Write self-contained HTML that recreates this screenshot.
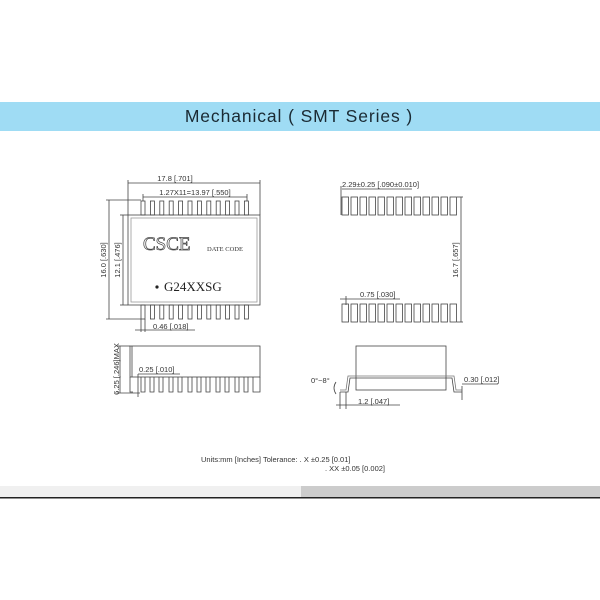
<!DOCTYPE html>
<html><head><meta charset="utf-8"><style>
html,body{margin:0;padding:0;background:#fff;width:600px;height:600px;overflow:hidden}
svg{display:block}
</style></head><body>
<svg width="600" height="600" viewBox="0 0 600 600" xmlns="http://www.w3.org/2000/svg">
<rect x="0" y="102" width="600" height="29" fill="#9fdcf4"/>
<text x="299" y="122" text-anchor="middle" font-family="Liberation Sans, sans-serif" font-size="17.5" letter-spacing="0.9" fill="#1a2a33">Mechanical ( SMT  Series )</text>

<g stroke="#444" fill="none" stroke-width="0.8">
<rect x="128" y="215" width="132" height="90"/>
<rect x="131" y="218" width="126" height="84" stroke="#999"/>
<g id="pt">
<rect x="141" y="201" width="4" height="14"/><rect x="150.4" y="201" width="4" height="14"/><rect x="159.8" y="201" width="4" height="14"/><rect x="169.2" y="201" width="4" height="14"/><rect x="178.6" y="201" width="4" height="14"/><rect x="188" y="201" width="4" height="14"/><rect x="197.4" y="201" width="4" height="14"/><rect x="206.8" y="201" width="4" height="14"/><rect x="216.2" y="201" width="4" height="14"/><rect x="225.6" y="201" width="4" height="14"/><rect x="235" y="201" width="4" height="14"/><rect x="244.4" y="201" width="4" height="14"/>
</g>
<use href="#pt" y="104"/>
<line x1="128" y1="183" x2="260" y2="183"/><line x1="128" y1="180" x2="128" y2="215"/><line x1="260" y1="180" x2="260" y2="215"/>
<line x1="143" y1="197" x2="247" y2="197"/><line x1="143" y1="194" x2="143" y2="201"/><line x1="247" y1="194" x2="247" y2="201"/>
<line x1="109" y1="200" x2="109" y2="319"/><line x1="106" y1="200" x2="141" y2="200"/><line x1="106" y1="319" x2="141" y2="319"/>
<line x1="123" y1="215" x2="123" y2="305"/><line x1="120" y1="215" x2="128" y2="215"/><line x1="120" y1="305" x2="128" y2="305"/>
<line x1="141" y1="319" x2="141" y2="332"/><line x1="145" y1="319" x2="145" y2="332"/><line x1="135" y1="330" x2="195" y2="330"/>
<g id="rp">
<rect x="342" y="197" width="6.5" height="18"/><rect x="351" y="197" width="6.5" height="18"/><rect x="360" y="197" width="6.5" height="18"/><rect x="369" y="197" width="6.5" height="18"/><rect x="378" y="197" width="6.5" height="18"/><rect x="387" y="197" width="6.5" height="18"/><rect x="396" y="197" width="6.5" height="18"/><rect x="405" y="197" width="6.5" height="18"/><rect x="414" y="197" width="6.5" height="18"/><rect x="423" y="197" width="6.5" height="18"/><rect x="432" y="197" width="6.5" height="18"/><rect x="441" y="197" width="6.5" height="18"/><rect x="450" y="197" width="6.5" height="18"/>
</g>
<use href="#rp" y="107"/>
<line x1="461" y1="197" x2="461" y2="322"/><line x1="457" y1="197" x2="463" y2="197"/><line x1="457" y1="322" x2="463" y2="322"/>
<line x1="342" y1="189" x2="412" y2="189"/><line x1="341" y1="186" x2="341" y2="215"/>
<line x1="340" y1="299" x2="400" y2="299"/><line x1="346" y1="296" x2="346" y2="305"/>
<rect x="130" y="346" width="130" height="31"/>
<line x1="132" y1="346" x2="132" y2="377"/>
<path d="M130 377 V392 H133 M141 377 V392 H145 V377 M150 377 V392 H154 V377 M159 377 V392 H163 V377 M169 377 V392 H173 V377 M178 377 V392 H182 V377 M188 377 V392 H192 V377 M197 377 V392 H201 V377 M206 377 V392 H210 V377 M216 377 V392 H220 V377 M225 377 V392 H229 V377 M235 377 V392 H239 V377 M244 377 V392 H248 V377 M253 377 V392 H260 V377"/>
<line x1="120" y1="346" x2="120" y2="393"/><line x1="117" y1="346" x2="130" y2="346"/><line x1="117" y1="393" x2="140" y2="393"/>
<line x1="138" y1="374" x2="180" y2="374"/><line x1="138" y1="374" x2="138" y2="397"/>
<rect x="356" y="346" width="90" height="44"/>
<path d="M340 392 H348 L350 378 H452 L454 392 H462"/>
<path d="M340 390 H346 L348 376 H454 L456 390 H462" stroke="#777"/>
<line x1="346" y1="392" x2="346" y2="409"/><line x1="340" y1="392" x2="340" y2="409"/><line x1="336" y1="405" x2="400" y2="405"/>
<path d="M336 382 Q332 388 336 394"/>
<line x1="462" y1="386" x2="462" y2="400"/><line x1="462" y1="384" x2="498" y2="384"/>
</g>
<g font-family="Liberation Sans, sans-serif" font-size="7.5" fill="#333">
<text x="175" y="181" text-anchor="middle">17.8 [.701]</text>
<text x="195" y="195" text-anchor="middle">1.27X11=13.97 [.550]</text>
<text transform="translate(106,260) rotate(-90)" text-anchor="middle">16.0 [.630]</text>
<text transform="translate(120,260) rotate(-90)" text-anchor="middle">12.1 [.476]</text>
<text x="153" y="329">0.46 [.018]</text>
<text x="342" y="187">2.29±0.25 [.090±0.010]</text>
<text transform="translate(458,260) rotate(-90)" text-anchor="middle">16.7 [.657]</text>
<text x="360" y="297">0.75 [.030]</text>
<text transform="translate(119,369) rotate(-90)" text-anchor="middle">6.25 [.246]MAX</text>
<text x="139" y="372">0.25 [.010]</text>
<text x="311" y="383">0°~8°</text>
<text x="358" y="404">1.2 [.047]</text>
<text x="464" y="382">0.30 [.012]</text>
</g>
<text x="143" y="250" font-family="Liberation Serif, serif" font-size="19" fill="#fff" stroke="#444" stroke-width="0.7">CSCE</text>
<text x="207" y="251" font-family="Liberation Serif, serif" font-size="6.5" fill="#333">DATE CODE</text>
<circle cx="157" cy="287" r="1.6" fill="#222"/>
<text x="164" y="291" font-family="Liberation Serif, serif" font-size="13" fill="#222">G24XXSG</text>
<g font-family="Liberation Sans, sans-serif" font-size="7.5" fill="#333">
<text x="201" y="462">Units:mm [Inches] Tolerance: . X ±0.25 [0.01]</text>
<text x="325" y="471">. XX ±0.05 [0.002]</text>
</g>
<rect x="0" y="486" width="301" height="11" fill="#f0f0f0"/>
<rect x="301" y="486" width="299" height="11" fill="#cccccc"/>
<rect x="0" y="497" width="600" height="1.5" fill="#222"/>
</svg>
</body></html>
